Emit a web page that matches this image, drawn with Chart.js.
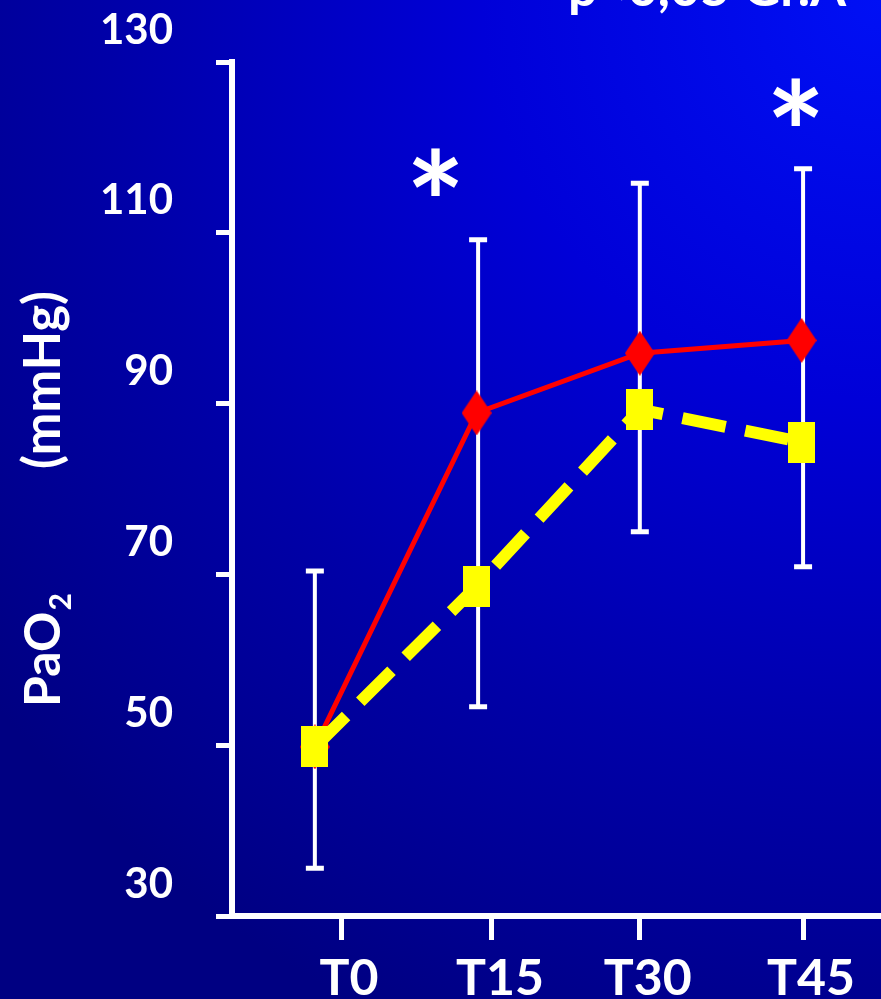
<!DOCTYPE html>
<html>
<head>
<meta charset="utf-8">
<script src="https://cdn.jsdelivr.net/npm/chart.js@4.4.1/dist/chart.umd.min.js"></script>
<style>
  html, body { margin: 0; padding: 0; }
  body {
    width: 881px; height: 999px; overflow: hidden;
    background: radial-gradient(circle at 100% 0%, #0010f5 0%, #0000d8 30%, #0000a8 58%, #000082 85%);
  }
  canvas { display: block; }
</style>
</head>
<body>
<canvas id="chart" width="881" height="999"></canvas>
<script>
// PaO2 over time, two groups, SD bars shared per time point.
const xLabels = ['T0', 'T15', 'T30', 'T45'];
const xTickPos = [0, 0.98, 1.94, 3.0];
const pointX = [-0.17, 0.88, 1.94, 2.99];
const redValues = [49.8, 88.9, 95.9, 97.4];
const yellowValues = [49.8, 68.6, 89.3, 85.5];
const errX = [-0.17, 0.89, 1.94, 3.0];
const errHigh = [70.4, 109.2, 115.8, 117.5];
const errLow = [35.6, 54.5, 75.0, 70.9];
const starX = [0.66, 3.0];
const starY = [117.1, 125.3];
const yTicks = [30, 50, 70, 90, 110, 130];

const FONT = 'Lato, "DejaVu Sans", sans-serif';

function marker(w, h, draw) {
  const c = document.createElement('canvas');
  c.width = w; c.height = h;
  draw(c.getContext('2d'), w, h);
  return c;
}
const yellowRect = marker(27, 41, (g, w, h) => { g.fillStyle = '#ffff00'; g.fillRect(0, 0, w, h); });
const redDiamond = marker(30, 45, (g, w, h) => {
  g.fillStyle = '#ff0000';
  g.beginPath();
  g.moveTo(w / 2, 0); g.lineTo(w, h / 2); g.lineTo(w / 2, h); g.lineTo(0, h / 2);
  g.closePath(); g.fill();
});

const errorBars = {
  id: 'errorBars',
  beforeDatasetsDraw(chart) {
    const { ctx, scales: { x, y } } = chart;
    ctx.save();
    ctx.strokeStyle = '#ffffff';
    for (let i = 0; i < errX.length; i++) {
      const px = x.getPixelForValue(errX[i]);
      const top = y.getPixelForValue(errHigh[i]);
      const bot = y.getPixelForValue(errLow[i]);
      ctx.lineWidth = 4;
      ctx.beginPath(); ctx.moveTo(px, top); ctx.lineTo(px, bot); ctx.stroke();
      ctx.lineWidth = 5;
      ctx.beginPath();
      ctx.moveTo(px - 9, top); ctx.lineTo(px + 9, top);
      ctx.moveTo(px - 9, bot); ctx.lineTo(px + 9, bot);
      ctx.stroke();
    }
    ctx.restore();
  },
};

const annotations = {
  id: 'annotations',
  afterDraw(chart) {
    const { ctx, scales: { x, y } } = chart;
    ctx.save();
    ctx.fillStyle = '#ffffff';

    // title, mostly cut off by the top edge in the original slide
    ctx.font = `bold 52px ${FONT}`;
    ctx.textAlign = 'left';
    ctx.textBaseline = 'alphabetic';
    ctx.fillText('p<0,05 Gr.A', 568, 6);

    // significance asterisks
    ctx.font = `bold 140px ${FONT}`;
    for (let i = 0; i < starX.length; i++) {
      const m = ctx.measureText('*');
      const cx = x.getPixelForValue(starX[i]);
      const cy = y.getPixelForValue(starY[i]);
      const gx = cx - (m.actualBoundingBoxRight - m.actualBoundingBoxLeft) / 2 + m.actualBoundingBoxLeft;
      const gy = cy + (m.actualBoundingBoxAscent - m.actualBoundingBoxDescent) / 2;
      ctx.fillText('*', gx, gy);
    }

    // y title: PaO2 (mmHg), rotated
    ctx.translate(60, 707);
    ctx.rotate(-Math.PI / 2);
    ctx.font = `bold 50px ${FONT}`;
    ctx.fillText('PaO', 0, 0);
    const w = ctx.measureText('PaO').width;
    ctx.font = `bold 30px ${FONT}`;
    ctx.fillText('2', w + 1, 11);
    ctx.font = `bold 51px ${FONT}`;
    ctx.fillText('(mmHg)', 238, 0);
    ctx.restore();
  },
};

new Chart(document.getElementById('chart'), {
  type: 'line',
  data: {
    datasets: [
      {
        label: 'yellow',
        data: pointX.map((v, i) => ({ x: v, y: yellowValues[i] })),
        borderColor: '#ffff00',
        borderWidth: 12,
        borderDash: [44, 20],
        tension: 0,
        pointStyle: yellowRect,
        pointRadius: 15,
        order: 0,
      },
      {
        label: 'red',
        data: pointX.map((v, i) => ({ x: v, y: redValues[i] })),
        borderColor: '#ff0000',
        borderWidth: 5,
        tension: 0,
        pointStyle: redDiamond,
        pointRadius: 15,
        order: 1,
      },
    ],
  },
  options: {
    responsive: false,
    animation: false,
    layout: { autoPadding: false, padding: { top: 62, right: 0, left: 0, bottom: 0 } },
    plugins: { legend: { display: false }, tooltip: { enabled: false } },
    scales: {
      x: {
        type: 'linear',
        min: -0.708,
        max: 3.506,
        afterBuildTicks: (s) => { s.ticks = xTickPos.map(v => ({ value: v })); },
        afterFit: (s) => { s.height = 83; s.paddingLeft = 0; s.paddingRight = 0; },
        ticks: {
          autoSkip: false,
          maxRotation: 0,
          color: '#ffffff',
          font: { family: FONT, size: 50, weight: 'bold' },
          padding: 9,
          labelOffset: 8,
          callback: (v, i) => xLabels[i],
        },
        grid: { drawOnChartArea: false, drawTicks: true, tickLength: 24, tickWidth: 5, color: '#ffffff' },
        border: { display: true, color: '#ffffff', width: 6 },
      },
      y: {
        type: 'linear',
        min: 30,
        max: 130,
        afterBuildTicks: (s) => { s.ticks = yTicks.map(v => ({ value: v })); },
        afterFit: (s) => { s.width = 232; s.paddingTop = 0; s.paddingBottom = 0; },
        ticks: {
          color: '#ffffff',
          font: { family: FONT, size: 42, weight: 'bold' },
          padding: 43,
          labelOffset: -32,
        },
        grid: { drawOnChartArea: false, drawTicks: true, tickLength: 16, tickWidth: 5, color: '#ffffff' },
        border: { display: true, color: '#ffffff', width: 6 },
      },
    },
  },
  plugins: [errorBars, annotations],
});
</script>
</body>
</html>
